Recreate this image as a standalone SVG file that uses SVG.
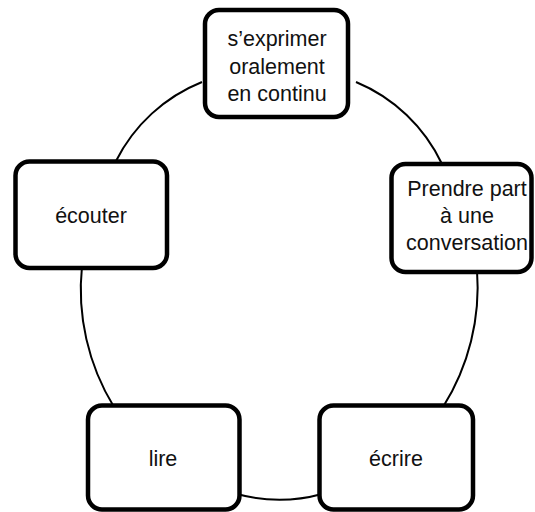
<svg xmlns="http://www.w3.org/2000/svg" width="535" height="512" viewBox="0 0 535 512">
<style>
.box{fill:#fff;stroke:#000;stroke-width:4.5}
.conn{fill:none;stroke:#000;stroke-width:2}
text{font-family:"Liberation Sans",Arial,sans-serif;font-size:21.5px;fill:#111;text-anchor:middle}
</style>
<rect width="535" height="512" fill="#fff"/>
<g id="connectors">
<path class="conn" d="M 202,82 A 165 165 0 0 0 116,161"/>
<path class="conn" d="M 82,266 A 225 225 0 0 0 114,407"/>
<path class="conn" d="M 237,494 A 160 160 0 0 0 322,494"/>
<path class="conn" d="M 443,407 A 225 225 0 0 0 477,270"/>
<path class="conn" d="M 442,164 A 165 165 0 0 0 356,82"/>
</g>
<g id="node-oral">
<rect class="box" x="205" y="10" width="143" height="107" rx="14"/>
<text x="277" y="46">s’exprimer</text>
<text x="277" y="74">oralement</text>
<text x="277" y="101">en continu</text>
</g>
<g id="node-conversation">
<rect class="box" x="391.5" y="164" width="140" height="108" rx="14"/>
<text x="467" y="196">Prendre part</text>
<text x="467" y="223">à une</text>
<text x="467" y="250">conversation</text>
</g>
<g id="node-ecouter">
<rect class="box" x="15.5" y="161.5" width="151.5" height="106.5" rx="14"/>
<text x="91" y="223">écouter</text>
</g>
<g id="node-lire">
<rect class="box" x="88" y="405.5" width="151.5" height="104" rx="14"/>
<text x="163" y="466">lire</text>
</g>
<g id="node-ecrire">
<rect class="box" x="319.5" y="405.5" width="153.5" height="104" rx="14"/>
<text x="396" y="466">écrire</text>
</g>
</svg>
